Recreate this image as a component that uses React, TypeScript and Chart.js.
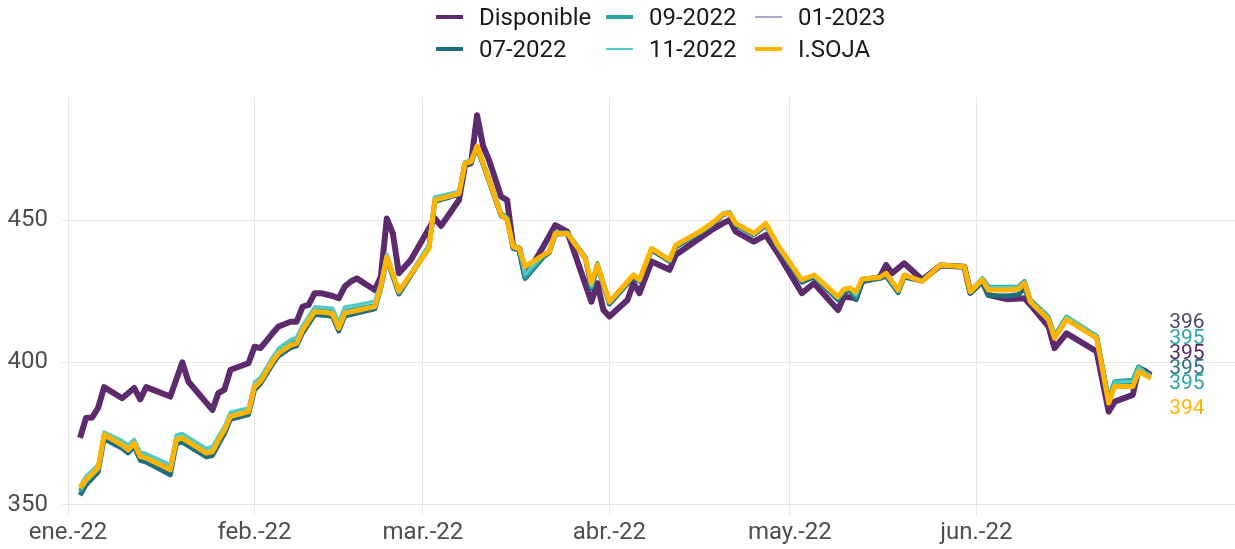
import React, { useEffect, useRef } from "react";
import { Chart, registerables } from "chart.js";

Chart.register(...registerables);

// ---- Axis ticks ----
const monthTickDays = [0, 31, 59, 90, 120, 151];
const monthTickLabels = ["ene.-22", "feb.-22", "mar.-22", "abr.-22", "may.-22", "jun.-22"];
const yTickValues = [350, 400, 450];

// ---- Series (x = days since 1 Jan 2022) ----
const seriesNames = ["Disponible", "07-2022", "09-2022", "11-2022", "01-2023", "I.SOJA"];

const dispDays = [2, 3, 4, 5, 6, 9, 11, 12, 13, 17, 19, 20, 24, 25, 26, 27, 30, 31, 32, 34, 35, 37, 38, 39, 40, 41, 42, 44, 45, 46, 47, 48, 51, 52, 53, 54, 55, 57, 61, 62, 65, 66, 67, 68, 69, 70, 72, 73, 74, 75, 76, 79, 81, 83, 85, 87, 88, 89, 90, 93, 94, 95, 97, 100, 101, 105, 107, 109, 110, 111, 114, 116, 118, 122, 124, 128, 129, 131, 132, 135, 136, 137, 139, 142, 145, 149, 150, 152, 153, 156, 159, 160, 163, 164, 166, 171, 173, 174, 177, 178, 179, 180];
const disponible = [373.5, 380.5, 380.6, 384, 391.3, 387.4, 391, 387, 391.3, 388, 400, 393.3, 383.3, 389.2, 390.4, 397.4, 399.7, 405.5, 405, 410.2, 412.6, 414.3, 414.3, 419.6, 420.2, 424.3, 424.3, 423.3, 422.5, 426.6, 428.4, 429.5, 425.4, 430.1, 450.5, 445.3, 431.3, 436, 450.6, 447.9, 457, 469.3, 470, 486.8, 476, 471, 458.2, 457, 440.6, 440, 430, 440.6, 448.2, 445.9, 433.6, 421.3, 427.8, 418.4, 416.1, 421.9, 427.8, 424.3, 435.4, 432.5, 437.7, 443.6, 446.5, 449, 450, 445.9, 442.4, 444.7, 438.3, 424.3, 427.8, 418.4, 423.1, 422.5, 428.5, 430, 434.2, 431.3, 434.8, 429, 434, 433.6, 424.5, 428.5, 423.7, 422.2, 422.5, 420.2, 412.6, 405, 410.2, 403.8, 382.7, 386.2, 388.6, 398, 397, 395.6];

const futDays = [2, 3, 5, 6, 9, 10, 11, 12, 13, 17, 18, 19, 23, 24, 26, 27, 30, 31, 32, 34, 35, 37, 38, 39, 41, 43, 44, 45, 46, 48, 51, 52, 53, 55, 60, 61, 62, 65, 66, 67, 68, 72, 73, 74, 75, 76, 79, 80, 81, 83, 86, 87, 88, 90, 94, 95, 97, 100, 101, 105, 107, 109, 110, 111, 114, 116, 118, 122, 124, 128, 129, 130, 131, 132, 135, 136, 138, 139, 142, 145, 149, 150, 152, 153, 156, 158, 159, 160, 163, 164, 166, 171, 173, 174, 177, 178, 179, 180];

const soja = [355.9, 358.8, 362.9, 374.6, 371, 369.3, 371.6, 367, 366.4, 362.3,
  372.8, 373.4, 368.1, 368.7, 376.3, 381, 382.7, 391.5, 393.3, 400.3,
  403.2, 406.1, 406.7, 411.4, 417.8, 417.5, 417, 412, 417.3, 418.2,
  419.6, 426.6, 437, 425, 440, 457, 457.6, 459.3, 469.9, 470.5,
  476, 451.8, 450, 440.6, 440, 433.6, 437.7, 438.9, 445.3, 445.3,
  436.6, 427.8, 434.2, 421.3, 430.7, 429, 440, 436, 441.2, 445.9,
  448.8, 452.3, 452.3, 448.8, 445.3, 448.8, 441.2, 429, 430.7, 423.1,
  425.7, 426, 424.8, 429.2, 429.9, 431.3, 425.4, 430.7, 428.4, 434.2,
  433.6, 424.8, 429, 425.4, 425.4, 425.7, 427.8, 421.3, 415, 408.5,
  415, 408.5, 385.7, 391.5, 391.5, 396.8, 395.6, 394.4];

const jul22 = [353.3, 357, 361.5, 373.2, 369.8, 368.2, 370.5, 365.6, 365, 360.5,
  371.5, 372, 366.8, 367.3, 375, 380, 381.7, 390.3, 392.5, 399.4,
  402.3, 405.2, 405.8, 410.3, 416.8, 416.5, 416, 411, 416.3, 417.3,
  418.8, 426.2, 436.5, 424, 440.5, 456.5, 457.2, 459, 469.5, 470.2,
  475.5, 451.5, 450.3, 440, 439.5, 429.5, 437, 438.5, 445, 445.3,
  436.5, 426, 434, 420.5, 430, 428.5, 439.5, 435.5, 440.5, 445.5,
  448.3, 452, 452.4, 448.3, 444.8, 448.2, 440.5, 428.2, 430, 422,
  424.5, 425.5, 422, 428.5, 429.5, 430.3, 424.5, 430, 428.6, 434,
  433.6, 424.2, 428.3, 423.5, 423.3, 423.8, 426, 421, 415.3, 409,
  415.6, 409, 386.3, 393, 393.3, 398.3, 396.5, 395.2];

const sep22 = [354.8, 358.2, 362.5, 374.6, 371, 369.2, 371.8, 367.5, 366.8, 362.5,
  373, 373.5, 368.5, 369, 376.5, 381.3, 383, 391.8, 393.7, 400.8,
  403.8, 406.8, 407.5, 412.5, 418.5, 418.3, 418, 412.8, 418, 418.8,
  420, 427, 437.5, 424.5, 441, 457.8, 458.3, 459.8, 470.2, 470.8,
  476, 452.5, 450.8, 441, 440.2, 430, 437.5, 438.8, 445.5, 445.6,
  437, 426.5, 434.8, 421, 430.5, 428.8, 440, 435.8, 440.8, 445.6,
  448.5, 452.4, 452.6, 448.5, 445, 448.5, 440.8, 428.8, 430.5, 422.6,
  425.3, 426.2, 423.3, 429.3, 430, 431, 425, 430.6, 428.6, 434.3,
  433.6, 424.8, 429.5, 426.6, 426.5, 426.6, 428.5, 422, 416, 409.3,
  416, 409.2, 387, 393.3, 393.8, 398.5, 396.6, 395.3];

const nov22 = [356.5, 360, 364, 375.5, 372.5, 371, 373, 368.5, 368, 364,
  374.5, 375, 369.8, 370.5, 377.5, 382.5, 384, 393, 394.8, 401.8,
  405, 408, 408.8, 413, 419.5, 419.2, 419, 414, 419.5, 420.2,
  421.5, 428, 438, 425, 441.3, 458, 458.5, 460, 470.3, 470.8,
  476, 452.3, 450.6, 441, 440.3, 431, 437.8, 439, 445.5, 445.5,
  437, 427, 434.6, 421.2, 430.6, 428.9, 440, 436, 441, 445.7,
  448.6, 452.3, 452.5, 448.6, 445.2, 448.6, 441, 429, 430.7, 423,
  425.6, 426.2, 423.8, 429.3, 430, 431.2, 425.4, 430.7, 428.5, 434.2,
  433.6, 424.9, 429.4, 426.4, 426.3, 426.5, 428.3, 421.8, 415.8, 409.2,
  416, 409.1, 386.6, 393, 393.3, 398.2, 396.3, 395];

const jan23 = [356.2, 359.2, 363.3, 374.9, 371.3, 369.6, 371.9, 367.4, 366.8, 362.7,
  373.1, 373.7, 368.5, 369, 376.6, 381.3, 383, 391.8, 393.6, 400.6,
  403.5, 406.4, 407, 411.7, 418.1, 417.8, 417.3, 412.3, 417.6, 418.5,
  419.9, 426.9, 437.2, 425.3, 440.3, 457.2, 457.8, 459.5, 470.1, 470.6,
  476.1, 452, 450.2, 440.8, 440.2, 433.2, 437.9, 439.1, 445.5, 445.5,
  436.8, 427.6, 434.4, 421.5, 430.8, 429.2, 440.2, 436.2, 441.3, 446,
  448.9, 452.4, 452.4, 448.9, 445.4, 448.9, 441.3, 429.2, 430.8, 423.3,
  425.8, 426.1, 424.9, 429.3, 430, 431.4, 425.5, 430.8, 428.5, 434.3,
  433.7, 424.9, 429.1, 425.6, 425.6, 425.9, 427.9, 421.5, 415.2, 408.7,
  415.2, 408.7, 386, 391.8, 391.9, 397, 395.9, 395.6];

// ---- End labels (text) ----
const endLabels = ["396", "395", "395", "395", "395", "394"];
const endLabelColors = ["#4a4670", "#2aa7a1", "#5b2a6b", "#2c6e84", "#2aa7a1", "#ffb400"];
const endLabelLevels = [413.9, 408.3, 403, 397.7, 392.5, 383.7];
const endLabelDay = 186;

// ---- Styles ----
const colors = ["#5c2a6d", "#1f6e80", "#2aa5a0", "#52cbc6", "#a9a6c6", "#ffb400"];
const lineWidths = [6, 5, 4.5, 3.5, 1.8, 5];
const legendThickness = [4, 3.7, 3.2, 2.7, 1.6, 3.7];
const drawOrder = [5, 4, 3, 2, 1, 0];

function toPoints(days: number[], vals: number[]) {
  return days.map((d, i) => ({ x: d, y: vals[i] }));
}

const FONT = "Roboto, 'Noto Sans', sans-serif";

export default function App() {
  const canvasRef = useRef<HTMLCanvasElement | null>(null);

  useEffect(() => {
    document.body.style.margin = "0";
    const canvas = canvasRef.current;
    if (!canvas) return;

    const seriesData = [
      toPoints(dispDays, disponible),
      toPoints(futDays, jul22),
      toPoints(futDays, sep22),
      toPoints(futDays, nov22),
      toPoints(futDays, jan23),
      toPoints(futDays, soja),
    ];

    const endLabelPlugin = {
      id: "endLabels",
      afterDatasetsDraw(chart: any) {
        const ctx = chart.ctx;
        const xs = chart.scales.x;
        const ys = chart.scales.y;
        ctx.save();
        ctx.font = `21px ${FONT}`;
        ctx.textAlign = "center";
        ctx.textBaseline = "middle";
        endLabels.forEach((t, i) => {
          ctx.fillStyle = endLabelColors[i];
          ctx.fillText(t, xs.getPixelForValue(endLabelDay), ys.getPixelForValue(endLabelLevels[i]));
        });
        ctx.restore();
      },
    };

    const chart = new Chart(canvas, {
      type: "line",
      data: {
        datasets: seriesNames.map((name, i) => ({
          label: name,
          data: seriesData[i],
          borderColor: colors[i],
          backgroundColor: colors[i],
          borderWidth: lineWidths[i],
          pointRadius: 0,
          pointHoverRadius: 0,
          tension: 0,
          fill: false,
          borderJoinStyle: "round" as const,
          borderCapStyle: "butt" as const,
          order: drawOrder[i],
        })),
      },
      options: {
        animation: false,
        responsive: false,
        devicePixelRatio: 1,
        layout: { padding: { top: 97, left: 0, right: 0, bottom: 0 } },
        plugins: {
          legend: { display: false },
          tooltip: { enabled: false },
        },
        scales: {
          x: {
            type: "linear",
            min: -1,
            max: 194,
            afterBuildTicks: (scale: any) => {
              scale.ticks = monthTickDays.map((v) => ({ value: v }));
            },
            afterFit: (scale: any) => {
              scale.height = 34;
            },
            grid: { color: "#e6e6e6", lineWidth: 1, drawTicks: false },
            border: { display: false },
            ticks: {
              autoSkip: false,
              maxRotation: 0,
              padding: 4,
              color: "#4d4d4d",
              font: { family: FONT, size: 24 },
              callback: (v: any) => {
                const idx = monthTickDays.indexOf(Number(v));
                return idx >= 0 ? monthTickLabels[idx] : "";
              },
            },
          },
          y: {
            type: "linear",
            min: 346.4,
            max: 493.2,
            afterBuildTicks: (scale: any) => {
              scale.ticks = yTickValues.map((v) => ({ value: v }));
            },
            afterFit: (scale: any) => {
              scale.width = 62;
            },
            grid: { color: "#e6e6e6", lineWidth: 1, drawTicks: false },
            border: { display: false },
            ticks: {
              padding: 14,
              color: "#4d4d4d",
              font: { family: FONT, size: 24 },
              callback: (v: any) => String(v),
            },
          },
        },
      },
      plugins: [endLabelPlugin],
    });

    return () => chart.destroy();
  }, []);

  const legendCols = [436, 606, 755];
  const legendRows = [17, 49];
  // column-major placement: Disponible, 07-2022 | 09-2022, 11-2022 | 01-2023, I.SOJA
  const legendItems = seriesNames.map((name, i) => ({
    name,
    color: colors[i],
    thick: legendThickness[i],
    left: legendCols[Math.floor(i / 2)],
    top: legendRows[i % 2],
  }));

  return (
    <div style={{ position: "relative", width: 1235, height: 549, background: "#ffffff", overflow: "hidden" }}>
      <canvas ref={canvasRef} width={1235} height={549} style={{ position: "absolute", left: 0, top: 0, width: 1235, height: 549 }} />
      {legendItems.map((it) => (
        <div
          key={it.name}
          style={{
            position: "absolute",
            left: it.left,
            top: it.top - 14,
            height: 28,
            display: "flex",
            alignItems: "center",
            fontFamily: FONT,
            fontSize: 24,
            color: "#1a1a1a",
            whiteSpace: "nowrap",
          }}
        >
          <span style={{ display: "inline-block", width: 27, height: it.thick, background: it.color, marginRight: 16 }} />
          <span style={{ lineHeight: "28px" }}>{it.name}</span>
        </div>
      ))}
    </div>
  );
}
